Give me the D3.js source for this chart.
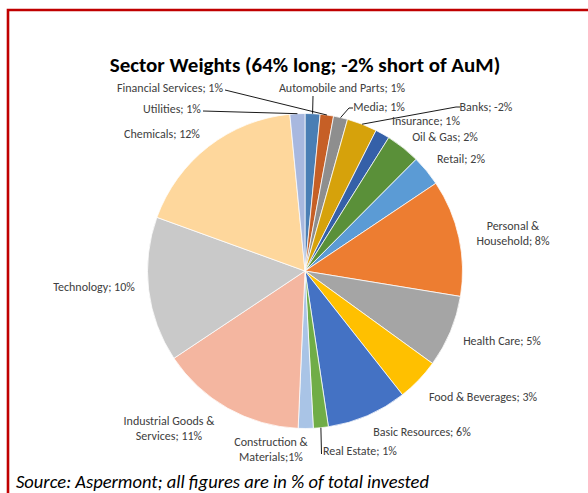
<!DOCTYPE html>
<html>
<head>
<meta charset="utf-8">
<script src="https://cdn.jsdelivr.net/npm/d3@7"></script>
<style>
  html, body { margin: 0; padding: 0; background: #fff; }
  svg { display: block; }
  text { font-family: Carlito, "Liberation Sans", Arial, sans-serif; }
</style>
</head>
<body>
<script>
// ---- data ----
const sectors = ["Automobile and Parts", "Financial Services", "Media", "Banks", "Insurance",
  "Oil & Gas", "Retail", "Personal & Household", "Health Care", "Food & Beverages",
  "Basic Resources", "Real Estate", "Construction & Materials", "Industrial Goods & Services",
  "Technology", "Chemicals", "Utilities"];
// estimated weights (% of AuM), slice size uses absolute value
const weights = [1.04, 0.93, 0.98, -2.1, 1.0, 2.4, 2.13, 8.12, 5.02, 2.98, 5.59, 1.04, 1.04, 10.14, 10.09, 12.16, 1.04];
// labels as printed in the chart
const labelLines = [
  ["Automobile and Parts; 1%"], ["Financial Services; 1%"], ["Media; 1%"], ["Banks; -2%"],
  ["Insurance; 1%"], ["Oil & Gas; 2%"], ["Retail; 2%"], ["Personal &", "Household; 8%"],
  ["Health Care; 5%"], ["Food & Beverages;  3%"], ["Basic Resources; 6%"], ["Real Estate;  1%"],
  ["Construction &", "Materials;1%"], ["Industrial Goods &", "Services; 11%"], ["Technology; 10%"],
  ["Chemicals; 12%"], ["Utilities; 1%"]
];
const colors = ["#4a7eb4", "#c65f26", "#8e8e8e", "#d6a20b", "#3560a8", "#5a9039", "#5b9bd5",
  "#ed7d31", "#a5a5a5", "#ffc000", "#4472c4", "#70ad47", "#a9c4e6", "#f4b6a0", "#c9c9c9",
  "#fed79c", "#a8b8df"];
const title = "Sector Weights (64% long; -2% short of AuM)";
const source = "Source: Aspermont; all figures are in % of total invested";

// ---- layout ----
const W = 588, H = 493;
const cx = 305, cy = 271, R = 157.5;
// label placement (centre x, centre y of first line) and leader start points
const labelPos = {
  "Automobile and Parts": {x: 342, y: 88, leader: [[313, 96]]},
  "Financial Services": {x: 170, y: 88, leader: [[225, 90]]},
  "Media": {x: 379, y: 107, leader: [[353, 108], [349, 108]]},
  "Banks": {x: 486, y: 107, leader: [[460, 107], [456, 107]]},
  "Insurance": {x: 426, y: 121},
  "Oil & Gas": {x: 445, y: 137},
  "Retail": {x: 461, y: 159},
  "Personal & Household": {x: 513, y: 226},
  "Health Care": {x: 502, y: 341},
  "Food & Beverages": {x: 483, y: 397},
  "Basic Resources": {x: 422, y: 432},
  "Real Estate": {x: 360, y: 451, leader: [[321.5, 454]]},
  "Construction & Materials": {x: 271, y: 442},
  "Industrial Goods & Services": {x: 169, y: 421},
  "Technology": {x: 94, y: 287},
  "Chemicals": {x: 162, y: 134},
  "Utilities": {x: 172, y: 109, leader: [[203, 111]]}
};

const svg = d3.select("body").append("svg").attr("width", W).attr("height", H);
svg.append("rect").attr("width", W).attr("height", H).attr("fill", "#fff");

// red frame
svg.append("path").attr("d", `M8,${H + 5} V10 H${W + 5}`)
  .attr("fill", "none").attr("stroke", "#c00000").attr("stroke-width", 2.6);

// title
svg.append("text").attr("x", 305).attr("y", 72).attr("text-anchor", "middle")
  .attr("font-size", 21).attr("font-weight", "bold").attr("fill", "#000").text(title);

const pie = d3.pie().sort(null).value(d => Math.abs(d.w)).startAngle(0).endAngle(2 * Math.PI);
const arcs = pie(sectors.map((s, i) => ({s, w: weights[i], i})));
const arc = d3.arc().innerRadius(0).outerRadius(R);

const g = svg.append("g").attr("transform", `translate(${cx},${cy})`);
g.selectAll("path.slice").data(arcs).join("path").attr("class", "slice")
  .attr("d", arc).attr("fill", d => colors[d.data.i])
  .attr("stroke", "#fff").attr("stroke-width", 0.75);

// leader lines
const edge = d3.arc().innerRadius(R).outerRadius(R);
arcs.forEach(d => {
  const lp = labelPos[d.data.s];
  if (!lp || !lp.leader) return;
  const c = edge.centroid(d);
  const pts = lp.leader.concat([[cx + c[0], cy + c[1]]]);
  svg.append("path").attr("d", d3.line()(pts)).attr("fill", "none")
    .attr("stroke", "#000").attr("stroke-width", 0.9);
});

// labels
arcs.forEach(d => {
  const lp = labelPos[d.data.s];
  const lines = labelLines[d.data.i];
  const t = svg.append("text").attr("text-anchor", "middle").attr("font-size", 12)
    .attr("fill", "#404040");
  lines.forEach((ln, k) => {
    t.append("tspan").attr("x", lp.x).attr("y", lp.y + 4 + k * 14.5).text(ln);
  });
});

// source
svg.append("text").attr("x", 16).attr("y", 488).attr("font-size", 18.5)
  .attr("font-style", "italic").attr("fill", "#000").text(source);
</script>
</body>
</html>
